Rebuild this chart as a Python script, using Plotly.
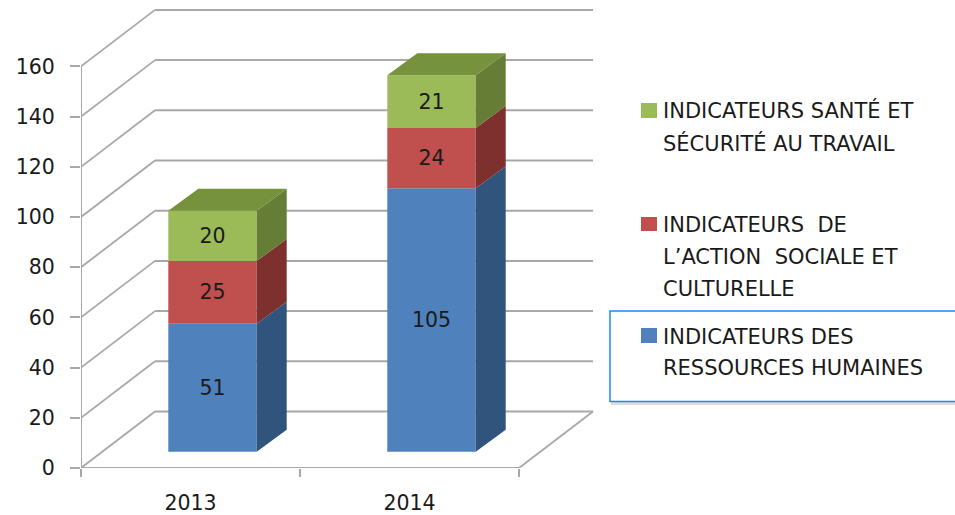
import plotly.graph_objects as go

# ---- data ----
years = ["2013", "2014"]
rh_values = [51, 105]
social_values = [25, 24]
sante_values = [20, 21]
y_ticks = [0, 20, 40, 60, 80, 100, 120, 140, 160]

legend_rh = ["INDICATEURS DES", "RESSOURCES HUMAINES"]
legend_social = ["INDICATEURS  DE", "L’ACTION  SOCIALE ET", "CULTURELLE"]
legend_sante = ["INDICATEURS SANTÉ ET", "SÉCURITÉ AU TRAVAIL"]

front_colors = ["#4F81BD", "#C0504D", "#9BBB59"]
side_colors = ["#31547C", "#7D302E", "#667D35"]
top_color = "#76923C"
grid_color = "#A8A8A8"
text_color = "#1A1A1A"
font_family = "DejaVu Sans"

# ---- layout constants ----
W, H = 955, 515
L, R, T, B = 81, 600, 5, 468
X_UNIT = 219.0          # px per category
Y_UNIT = 2.51           # px per value
x_max = (R - L) / X_UNIT
y_max = (B - T) / Y_UNIT

wall_dx, wall_dy = 74 / X_UNIT, 56.5 / Y_UNIT      # depth of chart floor
off_dx, off_dy = 22.0 / X_UNIT, 16.3 / Y_UNIT      # bar front inside the floor
bar_dx, bar_dy = 30 / X_UNIT, 22 / Y_UNIT          # depth of bar
bar_w = 88.4 / X_UNIT


def px_x(p):
    return (p - L) / (R - L)


def px_y(p):
    return (B - p) / (B - T)


series = [rh_values, social_values, sante_values]
names = [" ".join(legend_rh), " ".join(legend_social), " ".join(legend_sante)]
n_cat = len(years)
centers = [i + 0.5 + off_dx for i in range(n_cat)]

fig = go.Figure()

# front faces: real stacked bars
bases = [off_dy] * n_cat
for vals, col, name in zip(series, front_colors, names):
    fig.add_trace(go.Bar(
        x=centers, y=vals, base=list(bases), width=bar_w, name=name,
        marker=dict(color=col, line=dict(width=0)),
        text=[str(v) for v in vals], textposition="inside",
        insidetextanchor="middle", textangle=0, constraintext="none",
        insidetextfont=dict(family=font_family, size=20.5, color=text_color),
        showlegend=False, hoverinfo="name+y",
    ))
    bases = [b + v for b, v in zip(bases, vals)]

# side faces, computed from the same values
bases = [off_dy] * n_cat
for vals, col in zip(series, side_colors):
    xs, ys = [], []
    for c, b, v in zip(centers, bases, vals):
        xr = c + bar_w / 2
        xs += [xr, xr + bar_dx, xr + bar_dx, xr, xr, None]
        ys += [b, b + bar_dy, b + v + bar_dy, b + v, b, None]
    fig.add_trace(go.Scatter(x=xs, y=ys, mode="lines", fill="toself", fillcolor=col,
                             line=dict(width=0, color=col), hoverinfo="skip", showlegend=False))
    bases = [b + v for b, v in zip(bases, vals)]

# top faces of the stack
xs, ys = [], []
for c, b in zip(centers, bases):
    x0, x1 = c - bar_w / 2, c + bar_w / 2
    xs += [x0, x1, x1 + bar_dx, x0 + bar_dx, x0, None]
    ys += [b, b, b + bar_dy, b + bar_dy, b, None]
fig.add_trace(go.Scatter(x=xs, y=ys, mode="lines", fill="toself", fillcolor=top_color,
                         line=dict(width=0, color=top_color), hoverinfo="skip", showlegend=False))

# walls and floor
shapes = []


def seg(x0, y0, x1, y1, width=1.8, color=grid_color):
    shapes.append(dict(type="line", xref="x", yref="y", x0=x0, y0=y0, x1=x1, y1=y1,
                       layer="below", line=dict(color=color, width=width)))


for v in y_ticks:
    seg(0, v, wall_dx, v + wall_dy)
    seg(wall_dx, v + wall_dy, n_cat + wall_dx, v + wall_dy, width=2)
seg(0, 0, 0, y_ticks[-1], width=2)
seg(0, 0, n_cat, 0, width=2)
seg(n_cat, 0, n_cat + wall_dx, wall_dy)

# legend, drawn by hand because of its wide line spacing
annotations = []


def legend_block(lines, ys, swatch_col, sw_y0, sw_y1):
    for txt, yy in zip(lines, ys):
        annotations.append(dict(text=txt, xref="paper", yref="paper", x=px_x(661), y=px_y(yy),
                                xanchor="left", yanchor="middle", showarrow=False,
                                font=dict(family=font_family, size=21, color=text_color)))
    shapes.append(dict(type="rect", xref="paper", yref="paper", x0=px_x(641), x1=px_x(657),
                       y0=px_y(sw_y0), y1=px_y(sw_y1), fillcolor=swatch_col, line=dict(width=0)))


shapes.append(dict(type="rect", xref="paper", yref="paper", x0=px_x(612), x1=px_x(965),
                   y0=px_y(313), y1=px_y(404), line=dict(color="#DDDDDD", width=2), fillcolor="#DDDDDD"))
shapes.append(dict(type="rect", xref="paper", yref="paper", x0=px_x(610), x1=px_x(965),
                   y0=px_y(311), y1=px_y(401.5), line=dict(color="#1E88F5", width=1.5), fillcolor="white"))
legend_block(legend_sante, [110, 143], front_colors[2], 103, 118)
legend_block(legend_social, [225, 257, 289], front_colors[1], 217, 231)
legend_block(legend_rh, [337, 368], front_colors[0], 328, 343)

fig.update_layout(
    width=W, height=H, autosize=False,
    margin=dict(l=L, r=W - R, t=T, b=H - B, pad=0, autoexpand=False),
    paper_bgcolor="white", plot_bgcolor="white",
    barmode="overlay", showlegend=False,
    shapes=shapes, annotations=annotations,
    font=dict(family=font_family, color=text_color),
    xaxis=dict(range=[0, x_max], tickmode="array", automargin=False,
               tickvals=[i + 0.5 for i in range(n_cat)], ticktext=years,
               ticks="", showgrid=False, zeroline=False, showline=False,
               ticklabelstandoff=20, tickfont=dict(size=20.5, color=text_color, family=font_family),
               minor=dict(tickmode="array", tickvals=list(range(n_cat + 1)), ticks="outside",
                          ticklen=8, tickwidth=1.5, tickcolor=grid_color, showgrid=False)),
    yaxis=dict(range=[0, y_max], tickmode="array", tickvals=y_ticks, automargin=False,
               ticks="outside", ticklen=10, tickwidth=1.5, tickcolor=grid_color,
               showgrid=False, zeroline=False, showline=False, ticklabelstandoff=11,
               tickfont=dict(size=20.5, color=text_color, family=font_family)),
)

fig.write_html("out.html", config={"displayModeBar": False},
               post_script="document.body.style.margin='0';document.body.style.overflow='hidden';")
